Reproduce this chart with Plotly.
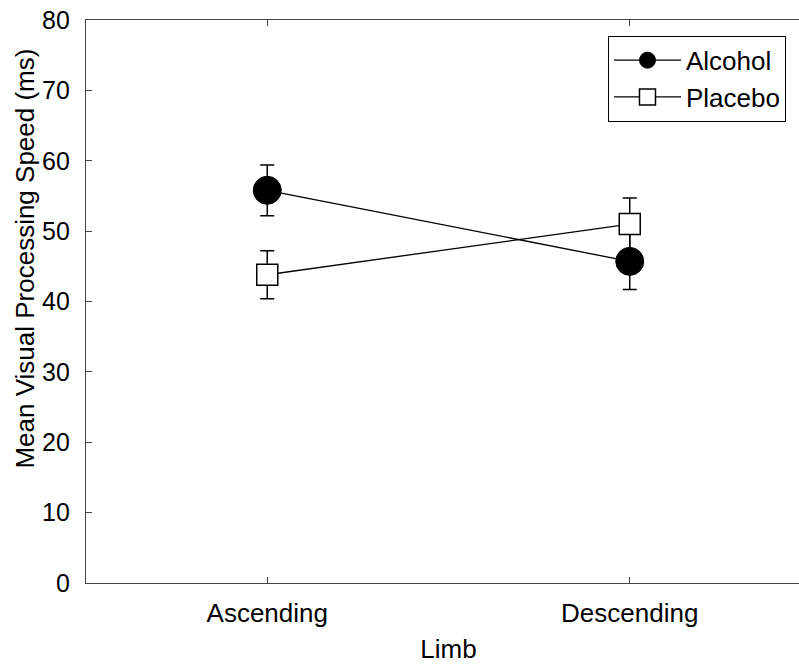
import plotly.graph_objects as go

limbs = ["Ascending", "Descending"]
alcohol_mean = [55.8, 45.7]
alcohol_err = [3.6, 4.0]
placebo_mean = [43.8, 51.0]
placebo_err = [3.4, 3.7]
x_pos = [1, 2]
y_ticks = [0, 10, 20, 30, 40, 50, 60, 70, 80]

fig = go.Figure()
fig.add_trace(go.Scatter(
    x=x_pos, y=alcohol_mean, name="Alcohol", mode="lines+markers",
    line=dict(color="black", width=1.3),
    marker=dict(symbol="circle", size=28, color="black", line=dict(color="black", width=1)),
    error_y=dict(type="data", array=alcohol_err, visible=True, color="black", thickness=1.5, width=7),
))
fig.add_trace(go.Scatter(
    x=x_pos, y=placebo_mean, name="Placebo", mode="lines+markers",
    line=dict(color="black", width=1.3),
    marker=dict(symbol="square", size=21, color="white", line=dict(color="black", width=1.5)),
    error_y=dict(type="data", array=placebo_err, visible=True, color="black", thickness=1.5, width=7),
))

font_family = "Liberation Sans, Arial, sans-serif"
# The original axes extend past the right edge of the picture; the page is cropped at 799px.
fig.update_layout(
    width=811, height=668,
    margin=dict(l=86, r=0, t=20, b=85, autoexpand=False),
    paper_bgcolor="white", plot_bgcolor="white",
    font=dict(family=font_family, color="black"),
    showlegend=True,
    hovermode=False,
    legend=dict(
        x=0.9655, y=0.972, xanchor="right", yanchor="top",
        bordercolor="black", borderwidth=1, bgcolor="white",
        font=dict(size=26, family=font_family),
        itemwidth=67, tracegroupgap=0,
    ),
    xaxis=dict(
        range=[0.5, 2.5], tickvals=x_pos, ticktext=limbs,
        showline=True, linecolor="#444", linewidth=1.3, mirror="ticks",
        ticks="inside", ticklen=6, tickcolor="#444",
        showgrid=False, zeroline=False, automargin=False,
        tickfont=dict(size=26), ticklabelstandoff=7,
        title=dict(text="Limb", font=dict(size=26), standoff=12),
    ),
    yaxis=dict(
        range=[0, 80], tickvals=y_ticks,
        showline=True, linecolor="#444", linewidth=1.3, mirror=False,
        ticks="inside", ticklen=6, tickcolor="#444",
        showgrid=False, zeroline=False, automargin=False,
        tickfont=dict(size=25), ticklabelstandoff=10,
        ticklabeloverflow="allow",
    ),
    annotations=[dict(
        text="Mean Visual Processing Speed (ms)", textangle=-90,
        xref="paper", yref="paper", x=-0.0835, y=0.577,
        xanchor="center", yanchor="middle", showarrow=False,
        font=dict(size=26, family=font_family, color="black"),
    )],
)
fig.write_html(
    "out.html",
    config={"displayModeBar": False},
    post_script="document.body.style.margin='0'; document.body.style.overflow='hidden';",
)
